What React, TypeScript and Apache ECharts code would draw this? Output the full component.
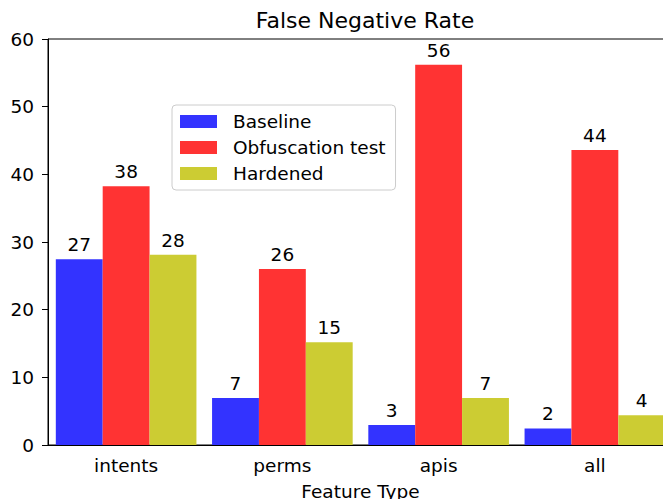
import React, { useEffect, useRef } from "react";
import * as echarts from "echarts";

const categories = ["intents", "perms", "apis", "all"];
const seriesNames = ["Baseline", "Obfuscation test", "Hardened"];
const baseline = [27.45, 6.95, 2.95, 2.45];
const obfuscation = [38.25, 26.0, 56.2, 43.6];
const hardened = [28.1, 15.2, 6.95, 4.4];
const yTicks = { min: 0, max: 60, interval: 10 };

const FONT = "DejaVu Sans";
const FS = 18.5;
const colors = ["rgb(51,51,255)", "rgb(255,51,51)", "rgb(204,204,51)"];

export default function App() {
  const ref = useRef<HTMLDivElement>(null);
  useEffect(() => {
    if (!ref.current) return;
    const chart = echarts.init(ref.current, null, { renderer: "svg" });
    const values = [baseline, obfuscation, hardened];
    chart.setOption({
      animation: false,
      textStyle: { fontFamily: FONT, color: "#000" },
      title: {
        text: "False Negative Rate",
        left: 360,
        top: 4,
        textAlign: "center",
        textStyle: { fontFamily: FONT, fontSize: 22, fontWeight: "normal", color: "#000" },
      },
      legend: {
        orient: "vertical",
        left: 172,
        top: 105,
        padding: [7, 10, 7, 8],
        itemWidth: 37,
        itemHeight: 13,
        itemGap: 7,
        borderColor: "#cccccc",
        borderWidth: 1,
        borderRadius: 4,
        backgroundColor: "rgba(255,255,255,0.8)",
        icon: "rect",
        textStyle: { fontFamily: FONT, fontSize: FS, color: "#000", padding: [0, 0, 0, 11] },
        data: seriesNames,
      },
      grid: {
        left: 48,
        top: 39,
        width: 625,
        height: 406,
        outerBoundsMode: "none",
        containLabel: false,
        show: true,
        borderColor: "#000",
        borderWidth: 1,
        backgroundColor: "transparent",
      },
      xAxis: {
        type: "category",
        data: categories,
        name: "Feature Type",
        nameLocation: "middle",
        nameGap: 37,
        nameTextStyle: { fontFamily: FONT, fontSize: FS, color: "#000" },
        axisLine: { lineStyle: { color: "#000", width: 1 } },
        axisTick: { alignWithLabel: true, length: 6, lineStyle: { color: "#000" } },
        axisLabel: { fontFamily: FONT, fontSize: FS, color: "#000", margin: 11 },
        splitLine: { show: false },
      },
      yAxis: {
        type: "value",
        min: yTicks.min,
        max: yTicks.max,
        interval: yTicks.interval,
        axisLine: { show: true, lineStyle: { color: "#000", width: 1 } },
        axisTick: { show: true, length: 6, lineStyle: { color: "#000" } },
        axisLabel: { fontFamily: FONT, fontSize: FS, color: "#000", margin: 14 },
        splitLine: { show: false },
      },
      series: seriesNames.map((name, i) => ({
        name,
        type: "bar",
        data: values[i],
        barWidth: "30%",
        barGap: "0%",
        itemStyle: { color: colors[i] },
        label: {
          show: true,
          position: "top",
          distance: 5,
          fontFamily: FONT,
          fontSize: FS,
          color: "#000",
          formatter: (p: any) => String(Math.round(p.value)),
        },
      })),
    });
    return () => chart.dispose();
  }, []);
  return (
    <div
      ref={ref}
      style={{ position: "fixed", left: 0, top: 0, width: 663, height: 499, background: "#fff" }}
    />
  );
}
